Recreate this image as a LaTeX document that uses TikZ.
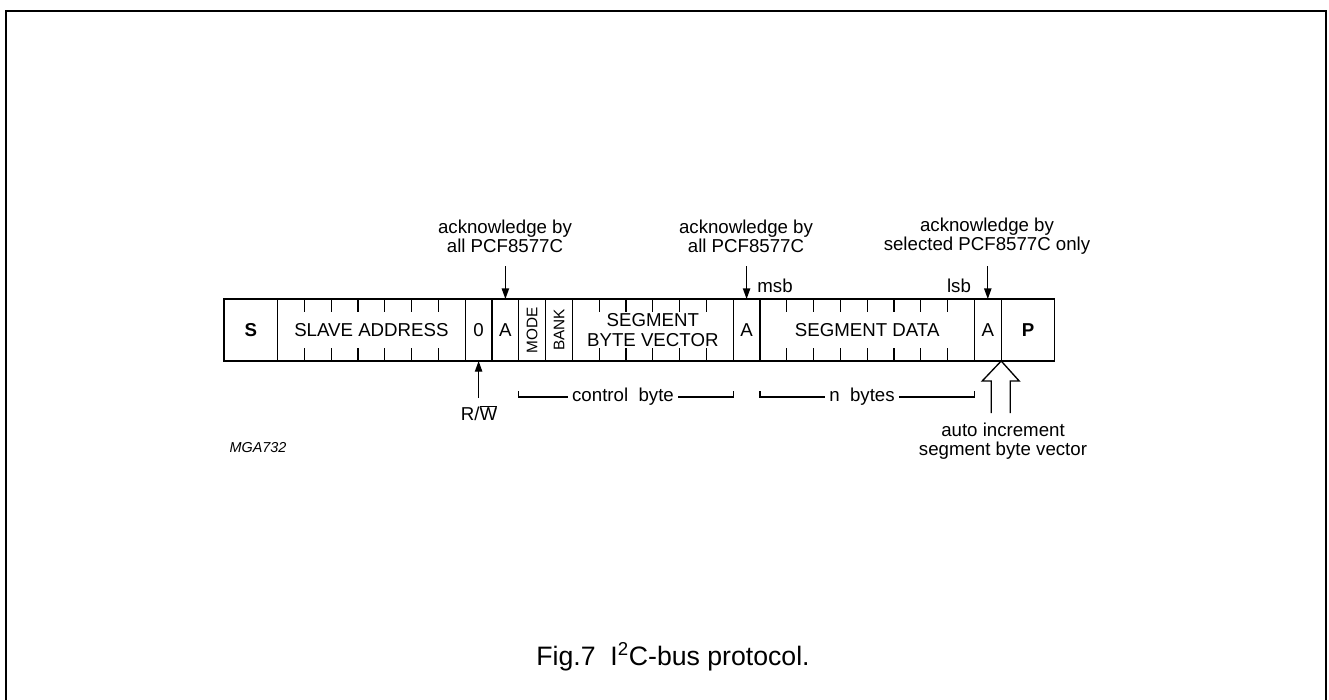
\documentclass[tikz,border=0pt]{standalone}
\usepackage{fontspec}
\setmainfont{Liberation Sans}
\usepackage{graphicx}
\usetikzlibrary{arrows.meta,positioning,calc}
\newcommand{\bitw}{20.1pt}

\begin{document}
\begin{tikzpicture}[x=0.75pt,y=-0.75pt,
  font=\fontsize{14}{14.5}\selectfont,
  cell/.style={draw,line width=1pt,minimum height=46.5pt,inner sep=0pt,outer sep=0pt},
  small/.style={font=\fontsize{11.5}{12}\selectfont},
  tick/.style={line width=0.8pt},
  flecha/.style={-{Triangle[length=8pt,width=5.5pt]},line width=1pt},
  lbl/.style={align=center,inner sep=3pt},
  brk/.style={line width=0.8pt}]
\useasboundingbox (0,0) rectangle (1329,700);
% frame
\draw[line width=1.5pt] (6,700) -- (6,11) -- (1326,11) -- (1326,700);
% the byte cells
\node[cell,minimum width={2*\bitw},anchor=west] (s) at (224,330) {\textbf{S}};
\node[cell,minimum width={7*\bitw},right=0pt of s] (addr) {SLAVE ADDRESS};
\node[cell,minimum width=\bitw,right=0pt of addr] (rw) {0};
\node[cell,minimum width=\bitw,right=0pt of rw] (a1) {A};
\node[cell,minimum width=\bitw,right=0pt of a1,small] (mode) {\rotatebox{90}{MODE}};
\node[cell,minimum width=\bitw,right=0pt of mode,small] (bank) {\rotatebox{90}{BANK}};
\node[cell,minimum width={6*\bitw},right=0pt of bank,align=center] (sbv) {SEGMENT\\BYTE VECTOR};
\node[cell,minimum width=\bitw,right=0pt of sbv] (a2) {A};
\node[cell,minimum width={8*\bitw},right=0pt of a2] (data) {SEGMENT DATA};
\node[cell,minimum width=\bitw,right=0pt of data] (a3) {A};
\node[cell,minimum width={2*\bitw},right=0pt of a3] (p) {\textbf{P}};
% bit ticks
\foreach \i in {1,...,6} {
  \draw[tick] ([xshift=\i*\bitw]addr.north west) -- ++(0,13);
  \draw[tick] ([xshift=\i*\bitw]addr.south west) -- ++(0,-13);
}
\foreach \i in {1,...,5} {
  \draw[tick] ([xshift=\i*\bitw]sbv.north west) -- ++(0,13);
  \draw[tick] ([xshift=\i*\bitw]sbv.south west) -- ++(0,-13);
}
\foreach \i in {1,...,7} {
  \draw[tick] ([xshift=\i*\bitw]data.north west) -- ++(0,13);
  \draw[tick] ([xshift=\i*\bitw]data.south west) -- ++(0,-13);
}
% acknowledges
\node[lbl] (ack1) at (505,236) {acknowledge by\\all PCF8577C};
\node[lbl] (ack2) at (746,236) {acknowledge by\\all PCF8577C};
\node[lbl] (ack3) at (987,236) {acknowledge by\\selected PCF8577C only};
\coordinate (t1) at ($(a1.north)+(0,-33)$);
\coordinate (t2) at ($(a2.north)+(0,-33)$);
\coordinate (t3) at ($(a3.north)+(0,-33)$);
\draw[flecha] (t1) -- (a1.north);
\draw[flecha] (t2) -- (a2.north);
\draw[flecha] (t3) -- (a3.north);
\node (msb) at (775,286) {msb};
\node (lsb) at (959,286) {lsb};
% read/write bit
\coordinate (rwt) at ($(rw.south)+(0,37)$);
\draw[flecha] (rwt) -- (rw.south);
\node (rwl) at (479,413) {R/$\overline{\hbox{W}}$};
% brackets
\node[lbl] (ctl) at (623,397) {control\ \ byte};
\draw[brk] ($(mode.south west)+(0,30)$) -- ++(0,6) -- (ctl.west);
\draw[brk] (ctl.east) -- (ctl.east -| sbv.south east) -- ++(0,-6);
\node[lbl] (nb) at (862,397) {n\ \ bytes};
\draw[brk] ($(data.south west)+(0,30)$) -- ++(0,6) -- (nb.west);
\draw[brk] (nb.east) -- (nb.east -| data.south east) -- ++(0,-6);
% auto increment
\coordinate (inc) at (a3.south east);
\draw[line width=1pt] ($(inc)+(-10,52)$) -- ($(inc)+(-10,20)$) -- ($(inc)+(-19,20)$)
  -- (inc) -- ($(inc)+(18,20)$) -- ($(inc)+(9,20)$) -- ($(inc)+(9,52)$);
\node[lbl] (autol) at (1003,441) {auto increment\\segment byte vector};
\node[font=\fontsize{10.8}{12}\selectfont\itshape] (code) at (258,448) {MGA732};
% caption
\node[font=\fontsize{20}{22}\selectfont] (cap) at (673,657) {Fig.7\ \ I\textsuperscript{2}C-bus protocol.};
\end{tikzpicture}
\end{document}
